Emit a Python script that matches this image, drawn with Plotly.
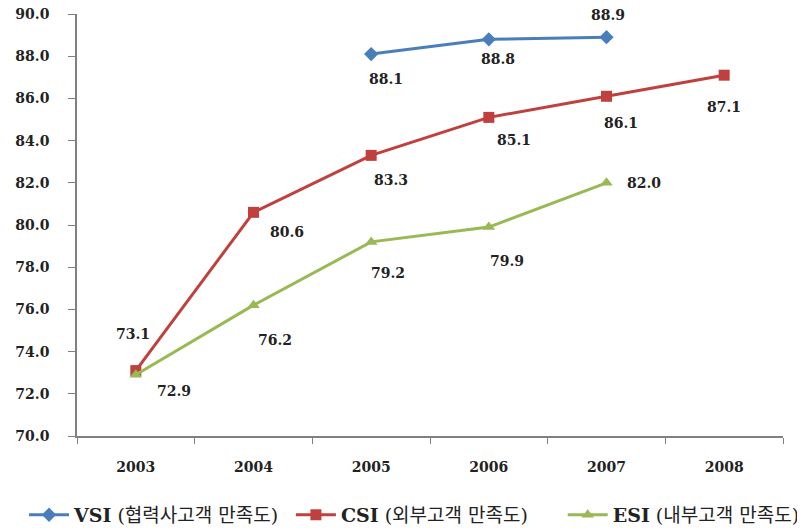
import plotly.graph_objects as go

years = ["2003", "2004", "2005", "2006", "2007", "2008"]
vsi = [None, None, 88.1, 88.8, 88.9, None]
csi = [73.1, 80.6, 83.3, 85.1, 86.1, 87.1]
esi = [72.9, 76.2, 79.2, 79.9, 82.0, None]
y_ticks = [70, 72, 74, 76, 78, 80, 82, 84, 86, 88, 90]

names = ["<b>VSI</b> (협력사고객 만족도)", "<b>CSI</b> (외부고객 만족도)", "<b>ESI</b> (내부고객 만족도)"]
colors = ["#4A7EBB", "#C0403D", "#98B954"]
symbols = ["diamond", "square", "triangle-up"]
series = [vsi, csi, esi]
legend_ids = ["legend", "legend2", "legend3"]
legend_x = [-0.075, 0.303, 0.688]

# label offsets (pixels) relative to each point: (dx, dy_up)
offsets = [
    [None, None, (15, -25), (9, -20), (1, 22), None],
    [(-3, 37), (33, -20), (20, -25), (25, -23), (14, -27), (0, -32)],
    [(38, -16), (21, -35), (17, -31), (18, -34), (37, 0), None],
]

label_font = dict(family="DejaVu Serif", size=14, color="#222222", weight="bold")
legend_font = dict(family="DejaVu Serif, Noto Sans CJK KR", size=19, color="#222222")

fig = go.Figure()
for name, col, sym, vals, lid in zip(names, colors, symbols, series, legend_ids):
    fig.add_trace(go.Scatter(
        x=years, y=vals, name=name, mode="lines+markers",
        line=dict(color=col, width=3),
        marker=dict(symbol=sym, size=11, color=col),
        connectgaps=False, legend=lid,
    ))

annotations = []
for vals, offs in zip(series, offsets):
    for i, (yv, off) in enumerate(zip(vals, offs)):
        if yv is None:
            continue
        annotations.append(dict(
            x=i, y=yv, xref="x", yref="y", text=f"{yv:.1f}",
            showarrow=False, xshift=off[0], yshift=off[1], font=label_font,
        ))

legend_common = dict(orientation="h", xanchor="left", y=-0.187, yanchor="middle",
                     font=legend_font, itemwidth=40, bgcolor="rgba(0,0,0,0)")

fig.update_layout(
    width=797, height=520,
    margin=dict(l=69, r=22, t=6, b=92, autoexpand=False),
    paper_bgcolor="white", plot_bgcolor="white",
    annotations=annotations,
    showlegend=True,
    legend=dict(x=legend_x[0], **legend_common),
    legend2=dict(x=legend_x[1], **legend_common),
    legend3=dict(x=legend_x[2], **legend_common),
    xaxis=dict(
        type="category", range=[-0.5, 5.5], showline=True, linecolor="#808080",
        linewidth=1.5, ticks="outside", tickson="boundaries", ticklen=6,
        tickcolor="#808080", showgrid=False, zeroline=False,
        tickfont=dict(family="DejaVu Serif", size=14, color="#222222", weight="bold"),
        ticklabelstandoff=17,
    ),
    yaxis=dict(
        range=[70, 90], tickvals=y_ticks, tickformat=".1f", showline=True,
        linecolor="#808080", linewidth=1.5, ticks="outside", ticklen=7,
        tickcolor="#808080", showgrid=False, zeroline=False,
        tickfont=dict(family="DejaVu Serif", size=14, color="#222222", weight="bold"),
        ticklabelstandoff=16, ticklabeloverflow="allow",
    ),
)

fig.write_html("out.html")
